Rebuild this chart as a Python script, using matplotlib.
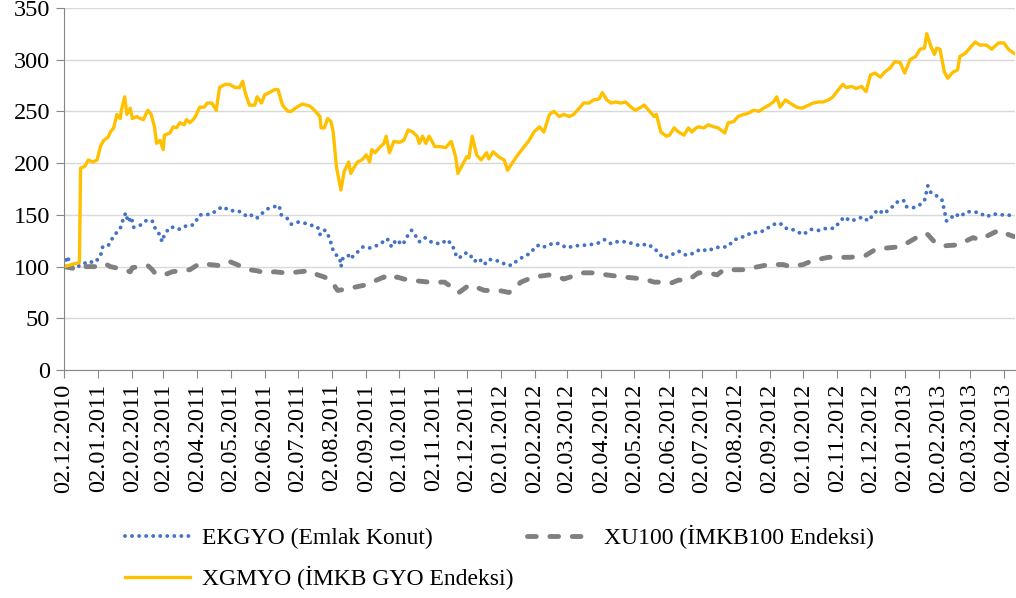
import pandas as pd
import matplotlib
matplotlib.use("Agg")
import matplotlib.pyplot as plt
import matplotlib.dates as mdates

# ===============================================
# EKGYO vs XU100 vs XGMYO (base 100 = 02.12.2010)
# ===============================================

start = pd.Timestamp("2010-12-02")
end = pd.Timestamp("2013-04-12")

# days since 02.12.2010
xg_day = [0, 14, 15, 19, 22, 26, 30, 33, 36, 40, 42, 45, 48, 51, 52, 55, 57, 60, 62, 66,
          69, 72, 76, 79, 82, 84, 87, 90, 91, 96, 99, 102, 105, 109, 111, 114, 118, 120, 123, 127,
          130, 134, 138, 141, 146, 150, 155, 159, 162, 164, 168, 173, 175, 179, 182, 186, 191, 194, 198, 203,
          206, 211, 216, 223, 227, 232, 233, 236, 239, 242, 244, 247, 251, 254, 258, 260, 263, 266, 270, 274,
          277, 279, 282, 286, 290, 292, 295, 299, 304, 308, 312, 316, 320, 322, 325, 328, 331, 336, 340, 346,
          351, 355, 357, 361, 365, 367, 370, 374, 378, 383, 385, 389, 394, 399, 402, 405, 410, 415, 421, 426,
          431, 435, 440, 444, 449, 453, 458, 462, 467, 471, 476, 480, 485, 488, 492, 496, 500, 505, 509, 514,
          518, 523, 526, 530, 535, 537, 541, 546, 549, 553, 557, 562, 566, 569, 573, 575, 580, 584, 589, 593,
          599, 602, 607, 611, 616, 620, 625, 630, 634, 639, 643, 646, 649, 654, 658, 664, 669, 675, 679, 684,
          688, 693, 697, 702, 706, 709, 714, 718, 723, 727, 731, 735, 740, 744, 749, 753, 758, 762, 767, 772,
          776, 780, 782, 786, 789, 791, 794, 798, 801, 806, 810, 812, 817, 821, 826, 830, 836, 841, 847, 852,
          856, 861]
xg_val = [100, 104, 195, 197, 203, 201, 203, 216, 222, 225, 230, 234, 247, 243, 251, 264, 247, 253, 243, 245,
          243, 242, 251, 247, 235, 219, 222, 213, 227, 229, 235, 234, 239, 237, 242, 239, 243, 247, 254, 254,
          258, 258, 251, 273, 276, 276, 273, 273, 279, 269, 256, 256, 264, 258, 266, 268, 271, 271, 256, 250,
          250, 254, 257, 255, 251, 245, 234, 234, 243, 240, 230, 196, 174, 192, 201, 190, 196, 201, 203, 208,
          201, 213, 210, 215, 219, 226, 210, 221, 220, 222, 232, 230, 226, 219, 226, 219, 226, 216, 216, 215,
          221, 206, 190, 198, 206, 205, 226, 208, 203, 210, 204, 211, 206, 203, 193, 198, 206, 213, 221, 230,
          235, 230, 247, 250, 245, 247, 245, 247, 253, 258, 258, 261, 262, 268, 261, 258, 259, 258, 259, 254,
          251, 254, 256, 251, 245, 247, 230, 226, 227, 234, 230, 227, 234, 230, 234, 235, 234, 237, 235, 234,
          229, 239, 240, 245, 247, 248, 251, 250, 253, 256, 259, 264, 254, 261, 258, 254, 253, 256, 258, 259,
          259, 261, 264, 271, 276, 273, 274, 272, 274, 269, 285, 287, 283, 288, 292, 298, 297, 287, 300, 303,
          310, 311, 325, 312, 305, 311, 310, 288, 282, 288, 290, 303, 306, 311, 317, 314, 314, 310, 316, 316,
          310, 306]

ek_day = [0, 3, 5, 10, 16, 21, 28, 33, 35, 40, 43, 47, 51, 54, 56, 58, 61, 63, 67, 71,
          75, 80, 83, 86, 89, 91, 96, 99, 104, 109, 114, 118, 123, 128, 134, 139, 144, 150, 157, 162,
          166, 171, 175, 179, 185, 191, 195, 197, 202, 206, 212, 218, 224, 230, 232, 234, 237, 241, 243, 246,
          250, 251, 253, 259, 260, 266, 271, 277, 281, 288, 293, 297, 301, 307, 311, 315, 318, 322, 327, 334,
          342, 347, 352, 355, 358, 363, 367, 372, 376, 381, 385, 392, 397, 402, 405, 411, 417, 423, 427, 431,
          435, 440, 444, 449, 456, 462, 476, 485, 490, 496, 501, 510, 516, 523, 528, 535, 539, 544, 550, 557,
          564, 571, 577, 584, 589, 595, 601, 608, 613, 619, 623, 631, 639, 644, 649, 654, 658, 664, 670, 677,
          684, 691, 698, 704, 707, 713, 716, 724, 729, 734, 738, 743, 749, 756, 761, 763, 770, 775, 780, 783,
          786, 790, 793, 796, 798, 800, 804, 808, 812, 818, 824, 830, 836, 842, 849, 856, 861]
ek_val = [100, 110, 104, 100, 101, 105, 104, 110, 119, 120, 126, 132, 137, 147, 152, 143, 148, 138, 139, 141,
          145, 144, 136, 132, 124, 131, 138, 138, 136, 139, 139, 141, 150, 150, 151, 155, 158, 154, 154, 152,
          148, 150, 147, 151, 156, 158, 159, 150, 147, 141, 143, 142, 140, 138, 131, 135, 135, 127, 118, 112,
          108, 100, 109, 111, 108, 114, 119, 118, 119, 123, 127, 119, 126, 121, 129, 135, 131, 124, 128, 123,
          122, 126, 121, 112, 108, 113, 113, 105, 108, 102, 107, 106, 103, 103, 101, 106, 110, 113, 119, 121,
          119, 121, 123, 122, 118, 120, 121, 123, 126, 122, 124, 124, 122, 120, 122, 118, 113, 108, 111, 115,
          111, 113, 117, 115, 118, 119, 119, 126, 128, 130, 133, 133, 138, 141, 142, 137, 137, 134, 131, 136,
          135, 137, 137, 144, 148, 144, 145, 148, 144, 151, 155, 151, 156, 163, 164, 158, 157, 159, 164, 178,
          171, 169, 167, 164, 154, 144, 147, 151, 148, 153, 153, 152, 148, 151, 150, 150, 148]

xu_day = [0, 10, 19, 28, 33, 37, 42, 55, 60, 62, 76, 80, 83, 91, 98, 105, 114, 123, 132, 141,
          150, 159, 168, 175, 182, 191, 200, 206, 213, 223, 230, 236, 243, 248, 254, 263, 272, 277, 290, 295,
          302, 308, 322, 331, 345, 349, 354, 358, 367, 374, 381, 394, 399, 403, 407, 414, 421, 426, 440, 449,
          453, 471, 480, 492, 507, 526, 535, 539, 550, 557, 566, 575, 584, 592, 598, 616, 625, 639, 652, 658,
          670, 679, 693, 706, 713, 727, 736, 756, 763, 779, 783, 788, 797, 810, 824, 830, 847, 856, 861]
xu_val = [100, 98, 100, 100, 102, 103, 100, 97, 95, 99, 101, 97, 93, 92, 95, 96, 97, 103, 102, 101,
          105, 101, 97, 96, 94, 95, 94, 94, 95, 96, 92, 90, 85, 77, 78, 80, 82, 84, 90, 87,
          90, 88, 86, 85, 85, 82, 77, 75, 82, 80, 77, 77, 76, 75, 77, 85, 88, 90, 92, 90,
          88, 94, 94, 92, 90, 88, 85, 85, 84, 87, 87, 94, 94, 92, 97, 97, 99, 102, 102, 100,
          102, 106, 109, 109, 109, 111, 117, 119, 122, 132, 131, 125, 120, 121, 128, 126, 135, 131, 129]

labels = ["EKGYO (Emlak Konut)", "XU100 (İMKB100 Endeksi)", "XGMYO (İMKB GYO Endeksi)"]

plt.rcParams["font.family"] = ["Liberation Serif", "DejaVu Serif"]

fig = plt.figure(figsize=(10.16, 5.98), dpi=100)
ax = fig.add_axes([0.063, 0.381, 0.936, 0.606])

xg_dates = start + pd.to_timedelta(xg_day, unit="D")
ek_dates = start + pd.to_timedelta(ek_day, unit="D")
xu_dates = start + pd.to_timedelta(xu_day, unit="D")

l_ek, = ax.plot(ek_dates, ek_val, color="#4472C4", lw=2.8,
                linestyle=(0, (0.01, 1.8)), dash_capstyle="round", label=labels[0])
l_xu, = ax.plot(xu_dates, xu_val, color="#808080", lw=3.5,
                linestyle=(0, (1.8, 2.8)), dash_capstyle="round", label=labels[1])
l_xg, = ax.plot(xg_dates, xg_val, color="#FFC000", lw=2.4, label=labels[2])

ax.set_ylim(0, 350)
ax.set_yticks(range(0, 351, 50))
ax.set_xlim(start, end)
ax.xaxis.set_major_locator(mdates.MonthLocator(bymonthday=2))
ax.xaxis.set_major_formatter(mdates.DateFormatter("%d.%m.%Y"))
plt.setp(ax.get_xticklabels(), rotation=90, ha="center", va="top")

ax.grid(axis="y", color="#D9D9D9", lw=1)
ax.set_axisbelow(True)
for s in ["top", "right"]:
    ax.spines[s].set_visible(False)
for s in ["left", "bottom"]:
    ax.spines[s].set_color("#868686")
ax.tick_params(axis="both", colors="#868686", labelcolor="black", labelsize=17.5, length=6)
ax.tick_params(axis="y", pad=4)

fig.legend([l_ek, l_xg, l_xu], [labels[0], labels[2], labels[1]], ncol=2,
           loc="upper left", bbox_to_anchor=(0.123, 0.122), frameon=False,
           borderpad=0, borderaxespad=0,
           fontsize=17, handlelength=2.75, handletextpad=0.5, columnspacing=0.6,
           labelspacing=0.7)

plt.savefig("out.png", dpi=100)
plt.close()
